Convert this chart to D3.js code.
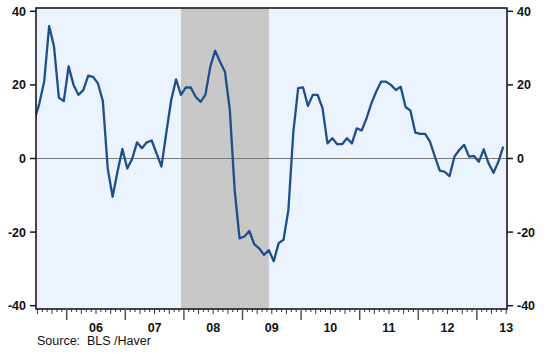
<!DOCTYPE html>
<html>
<head>
<meta charset="utf-8">
<script src="https://cdn.jsdelivr.net/npm/d3@7"></script>
<style>
  html, body { margin: 0; padding: 0; background: #fff; }
  svg { display: block; font-family: "Liberation Sans", Arial, sans-serif; }
</style>
</head>
<body>
<div id="chart"></div>
<script>
// Monthly series, first value = June 2005, last = June 2013
const SERIES_START = [2005, 6];
const VALUES = [
  10.5, 15, 21, 36, 30.4, 16.5, 15.6,                          // 2005 Jun-Dec
  25, 20, 17.3, 18.6, 22.5, 22.2, 20.4, 15.6, -2.7, -10.4, -3.6, 2.6,   // 2006
  -2.7, -0.1, 4.4, 2.8, 4.4, 4.9, 1.4, -2.2, 7, 15.9, 21.5, 17.3,       // 2007
  19.3, 19.3, 16.8, 15.4, 17.3, 24.9, 29.3, 26.3, 23.6, 13.2, -8.6, -21.7, // 2008
  -21.2, -19.7, -23.3, -24.4, -26.2, -24.9, -27.9, -23, -22.1, -14, 7, 19.1, // 2009
  19.3, 14.3, 17.3, 17.3, 13.6, 4.1, 5.5, 3.9, 3.9, 5.5, 4.1, 8.2,      // 2010
  7.6, 10.9, 15, 18.2, 20.9, 20.9, 20, 18.6, 19.5, 14, 13, 7,           // 2011
  6.7, 6.7, 4.6, 0.5, -3.3, -3.6, -4.8, 0.5, 2.3, 3.7, 0.5, 0.7,        // 2012
  -0.9, 2.5, -1.3, -3.9, -0.9, 3.2                                      // 2013 Jan-Jun
];
const YEARS = [2006, 2007, 2008, 2009, 2010, 2011, 2012, 2013];
const YEAR_LABELS = ['06', '07', '08', '09', '10', '11', '12', '13'];
const Y_TICKS = [-40, -20, 0, 20, 40];
const RECESSION = [[2007, 12], [2009, 6]];
const SOURCE = 'Source:  BLS /Haver';

const W = 547, H = 354;
const PLOT = { left: 36, right: 507, top: 8, bottom: 309 };
const PT = 0.4; // position of a monthly observation inside its month

// months counted from Jan 2005
const mIdx = (y, m) => (y - 2005) * 12 + (m - 1);

const x = d3.scaleLinear().domain([5.71, 102.17]).range([PLOT.left, PLOT.right]);
const y = d3.scaleLinear().domain([-40.9, 40.9]).range([PLOT.bottom, PLOT.top]);

const data = VALUES.map((v, i) => ({ m: mIdx(SERIES_START[0], SERIES_START[1]) + i, v }));

const svg = d3.select('#chart').append('svg')
  .attr('width', W).attr('height', H);

svg.append('defs').append('clipPath').attr('id', 'clip')
  .append('rect')
    .attr('x', PLOT.left).attr('y', PLOT.top)
    .attr('width', PLOT.right - PLOT.left).attr('height', PLOT.bottom - PLOT.top);

// background
svg.append('rect')
  .attr('x', PLOT.left).attr('y', PLOT.top)
  .attr('width', PLOT.right - PLOT.left).attr('height', PLOT.bottom - PLOT.top)
  .attr('fill', '#ebf4fe');

// recession shading
const r0 = x(mIdx(...RECESSION[0]) + PT), r1 = x(mIdx(...RECESSION[1]) + PT);
svg.append('rect')
  .attr('x', r0).attr('y', PLOT.top)
  .attr('width', r1 - r0).attr('height', PLOT.bottom - PLOT.top)
  .attr('fill', '#c8c8c8');

// zero line
svg.append('line')
  .attr('x1', PLOT.left).attr('x2', PLOT.right)
  .attr('y1', y(0)).attr('y2', y(0))
  .attr('stroke', '#7a7a7a').attr('stroke-width', 1.2);

// series
svg.append('path')
  .datum(data)
  .attr('clip-path', 'url(#clip)')
  .attr('fill', 'none')
  .attr('stroke', '#1f4e8b')
  .attr('stroke-width', 2.3)
  .attr('stroke-linejoin', 'round')
  .attr('d', d3.line().x(d => x(d.m + PT)).y(d => y(d.v)));

// frame
svg.append('rect')
  .attr('x', PLOT.left).attr('y', PLOT.top)
  .attr('width', PLOT.right - PLOT.left).attr('height', PLOT.bottom - PLOT.top)
  .attr('fill', 'none').attr('stroke', '#1a1a1a').attr('stroke-width', 1.6);

// y axes, both sides
const yl = svg.append('g');
Y_TICKS.forEach(t => {
  yl.append('line')
    .attr('x1', PLOT.left - 6).attr('x2', PLOT.left)
    .attr('y1', y(t)).attr('y2', y(t))
    .attr('stroke', '#1a1a1a').attr('stroke-width', 1.5);
  yl.append('line')
    .attr('x1', PLOT.right).attr('x2', PLOT.right + 6)
    .attr('y1', y(t)).attr('y2', y(t))
    .attr('stroke', '#1a1a1a').attr('stroke-width', 1.5);
  yl.append('text')
    .attr('x', PLOT.left - 10).attr('y', y(t)).attr('dy', '0.36em')
    .attr('text-anchor', 'end')
    .style('font-size', '12.5px').style('font-weight', 'bold').attr('fill', '#111')
    .text(t);
  yl.append('text')
    .attr('x', PLOT.right + 10).attr('y', y(t)).attr('dy', '0.36em')
    .attr('text-anchor', 'start')
    .style('font-size', '12.5px').style('font-weight', 'bold').attr('fill', '#111')
    .text(t);
});

// x axis: monthly ticks, taller at quarters and years
const xa = svg.append('g');
d3.range(Math.ceil(x.domain()[0]), Math.floor(x.domain()[1]) + 1).forEach(m => {
  const len = m % 12 === 0 ? 11 : (m % 3 === 0 ? 5 : 3);
  xa.append('line')
    .attr('x1', x(m)).attr('x2', x(m))
    .attr('y1', PLOT.bottom).attr('y2', PLOT.bottom + len)
    .attr('stroke', m % 12 === 0 ? '#555' : '#333')
    .attr('stroke-width', m % 12 === 0 ? 1.5 : 1);
});
YEARS.forEach((yr, i) => {
  xa.append('text')
    .attr('x', x(mIdx(yr, 7))).attr('y', 332)
    .attr('text-anchor', 'middle')
    .style('font-size', '12.5px').style('font-weight', 'bold').attr('fill', '#111')
    .text(YEAR_LABELS[i]);
});

svg.append('text')
  .attr('x', 37).attr('y', 345)
  .style('font-size', '12.5px').style('white-space', 'pre').attr('fill', '#111')
  .text(SOURCE);
</script>
</body>
</html>
